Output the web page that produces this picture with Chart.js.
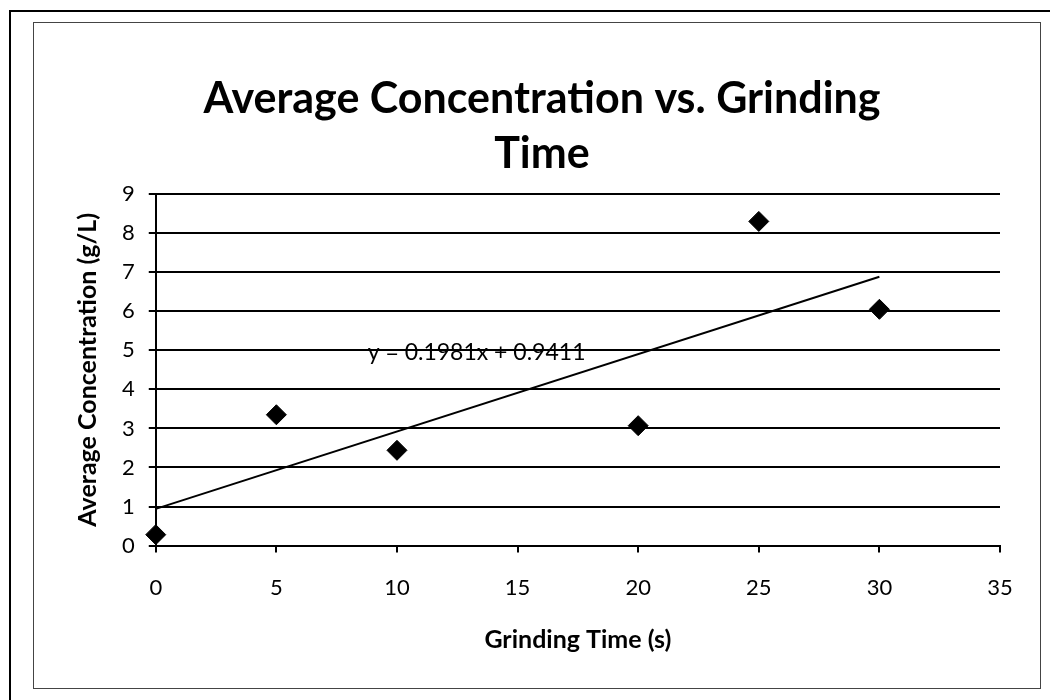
<!doctype html>
<html>
<head>
    <title>Average Concentration vs. Grinding Time</title>
    <script src="https://cdn.jsdelivr.net/npm/chart.js@4.4.1/dist/chart.umd.min.js"></script>
    <style>
        body { margin: 0; background: #fff; }
        canvas { display: block; }
    </style>
</head>
<body>
<canvas id="chart" width="1050" height="700"></canvas>
<script>
    // data
    var grindTimes = [0, 5, 10, 20, 25, 30];
    var avgConc = [0.28, 3.35, 2.44, 3.07, 8.30, 6.05];

    // trendline as printed on the chart
    var slope = 0.1981;
    var intercept = 0.9411;
    var trendRange = [0, 30];
    var eqText = 'y = 0.1981x + 0.9411';
    var eqAnchor = { x: 13.3, y: 4.93 }; // label position in data units

    var xTicks = { min: 0, max: 35, step: 5 };
    var yTicks = { min: 0, max: 9, step: 1 };

    var points = grindTimes.map(function(t, i) {
        return { x: t, y: avgConc[i] };
    });
    var trend = trendRange.map(function(t) {
        return { x: t, y: slope * t + intercept };
    });

    var FONT = 'Lato, Carlito, Calibri, sans-serif';

    var framePlugin = {
        id: 'frame',
        beforeDraw: function(chart) {
            var ctx = chart.ctx;
            ctx.save();
            ctx.fillStyle = '#fff';
            ctx.fillRect(0, 0, chart.width, chart.height);
            // outer border
            ctx.strokeStyle = '#000';
            ctx.lineWidth = 2;
            ctx.beginPath();
            ctx.moveTo(10, 700);
            ctx.lineTo(10, 11);
            ctx.lineTo(1050, 11);
            ctx.stroke();
            // inner chart frame
            ctx.strokeStyle = '#444';
            ctx.lineWidth = 1;
            ctx.strokeRect(33.5, 22.5, 1007, 666);
            ctx.restore();
        }
    };

    var eqPlugin = {
        id: 'eqLabel',
        afterDatasetsDraw: function(chart) {
            var ctx = chart.ctx;
            var px = chart.scales.x.getPixelForValue(eqAnchor.x);
            var py = chart.scales.y.getPixelForValue(eqAnchor.y);
            ctx.save();
            ctx.font = '23px ' + FONT;
            ctx.fillStyle = '#000';
            ctx.textAlign = 'center';
            ctx.textBaseline = 'middle';
            ctx.fillText(eqText, px, py);
            ctx.restore();
        }
    };

    var config = {
        type: 'scatter',
        data: {
            datasets: [{
                label: 'Average Concentration',
                data: points,
                pointStyle: 'rectRot',
                pointRadius: 10,
                pointHoverRadius: 10,
                backgroundColor: '#000',
                borderColor: '#000',
                borderWidth: 1,
                clip: false,
                order: 0
            }, {
                label: 'Trend',
                type: 'line',
                data: trend,
                borderColor: '#000',
                borderWidth: 2,
                pointRadius: 0,
                fill: false,
                clip: false,
                order: 1
            }]
        },
        options: {
            responsive: false,
            animation: false,
            layout: {
                padding: { left: 84, right: 50, top: 10, bottom: 45 }
            },
            plugins: {
                legend: { display: false },
                tooltip: { enabled: false },
                title: {
                    display: true,
                    text: ['Average Concentration vs. Grinding', 'Time'],
                    color: '#000',
                    font: { family: FONT, size: 43, weight: 'bold', lineHeight: 1.28 },
                    padding: { top: 62, bottom: 12 }
                }
            },
            scales: {
                x: {
                    type: 'linear',
                    min: xTicks.min,
                    max: xTicks.max,
                    border: { display: true, color: '#000', width: 2 },
                    grid: {
                        drawOnChartArea: false,
                        drawTicks: true,
                        tickLength: 7,
                        color: '#000',
                        lineWidth: 2
                    },
                    ticks: {
                        stepSize: xTicks.step,
                        color: '#000',
                        padding: 22,
                        maxRotation: 0,
                        font: { family: FONT, size: 22 }
                    },
                    title: {
                        display: true,
                        text: 'Grinding Time (s)',
                        color: '#000',
                        font: { family: FONT, size: 25, weight: 'bold' },
                        padding: { top: 2, bottom: 0 }
                    }
                },
                y: {
                    type: 'linear',
                    min: yTicks.min,
                    max: yTicks.max,
                    border: { display: true, color: '#000', width: 2 },
                    grid: {
                        drawTicks: true,
                        tickLength: 7,
                        color: '#000',
                        lineWidth: 2
                    },
                    ticks: {
                        stepSize: yTicks.step,
                        color: '#000',
                        padding: 14,
                        font: { family: FONT, size: 22 }
                    },
                    title: {
                        display: true,
                        text: 'Average Concentration (g/L)',
                        color: '#000',
                        font: { family: FONT, size: 25, weight: 'bold' },
                        padding: { top: -11, bottom: 5 }
                    }
                }
            }
        },
        plugins: [framePlugin, eqPlugin]
    };

    window.onload = function() {
        var ctx = document.getElementById('chart').getContext('2d');
        window.myChart = new Chart(ctx, config);
    };
</script>
</body>
</html>
